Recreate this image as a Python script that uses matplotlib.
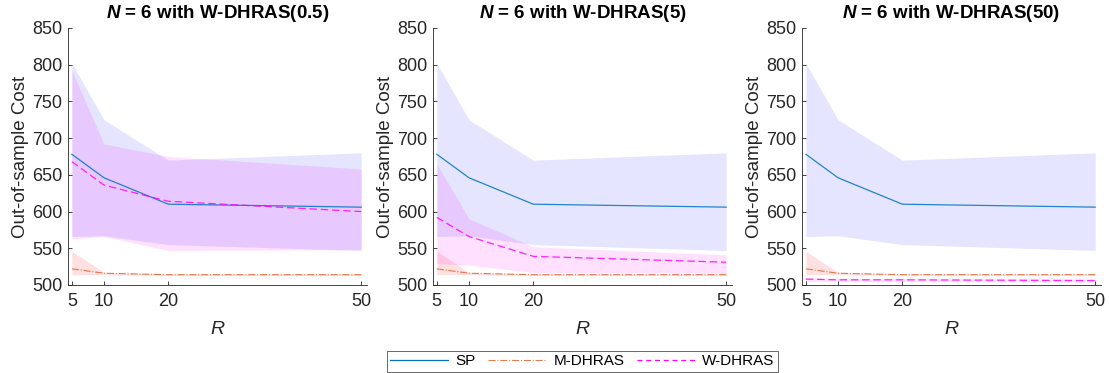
import numpy as np
import matplotlib.pyplot as plt
from matplotlib.lines import Line2D

plt.rcParams['font.family'] = ['Liberation Sans', 'DejaVu Sans']
plt.rcParams['mathtext.fontset'] = 'custom'
plt.rcParams['mathtext.rm'] = 'Liberation Sans'
plt.rcParams['mathtext.it'] = 'Liberation Sans:italic'
plt.rcParams['mathtext.bfit'] = 'Liberation Sans:italic:bold'

R = [5, 10, 20, 50]

# SP (same in every panel)
sp_mean = [678, 646, 610, 606]
sp_hi = [802, 725, 670, 680]
sp_lo = [566, 567, 555, 547]

# M-DHRAS (same in every panel)
md_mean = [522, 516, 514, 514]
md_hi = [546, 517, 515, 515]
md_lo = [514, 514, 513, 513]

# W-DHRAS for three radii
wd_labels = ['0.5', '5', '50']
wd_mean = [[668, 636, 614, 600],
           [592, 566, 539, 531],
           [508, 507, 507, 506]]
wd_hi = [[792, 692, 675, 658],
         [665, 590, 552, 541],
         [510, 509, 509, 508]]
wd_lo = [[563, 566, 547, 548],
         [529, 527, 517, 516],
         [505, 505, 505, 504]]

c_sp = '#0072BD'
c_md = '#D95319'
c_wd = '#FF00FF'

fig = plt.figure(figsize=(11.09, 3.73), dpi=100)
lefts = [0.0613, 0.3904, 0.7232]

for k in range(3):
    ax = fig.add_axes([lefts[k], 0.236, 0.2696, 0.689])
    ax.fill_between(R, sp_lo, sp_hi, color='#0000FF', alpha=0.1, lw=0)
    ax.fill_between(R, md_lo, md_hi, color='#FF0000', alpha=0.12, lw=0)
    ax.fill_between(R, wd_lo[k], wd_hi[k], color='#FF00FF', alpha=0.12, lw=0)
    ax.plot(R, sp_mean, color=c_sp, lw=0.9, ls='-', alpha=0.85)
    ax.plot(R, md_mean, color=c_md, lw=0.8, ls='-.', alpha=0.75)
    ax.plot(R, wd_mean[k], color=c_wd, lw=0.9, ls=(0, (6, 3)), alpha=0.85)

    ax.set_xlim(4.4, 50.9)
    ax.set_ylim(500, 850)
    ax.set_xticks(R)
    ax.set_yticks(np.arange(500, 851, 50))
    ax.tick_params(direction='in', labelsize=13, colors='#262626', length=3, width=0.6,
                   pad=4)
    ax.tick_params(axis='x', pad=6)
    for side in ['top', 'right']:
        ax.spines[side].set_visible(False)
    for side in ['left', 'bottom']:
        ax.spines[side].set_color('#262626')
        ax.spines[side].set_linewidth(0.6)
    ax.set_xlabel('$R$', fontsize=14, color='#262626', labelpad=8)
    ax.set_ylabel('Out-of-sample Cost', fontsize=13.5, color='#262626', labelpad=2)
    ax.set_title('$\\mathbfit{N}$ = 6 with W-DHRAS(' + wd_labels[k] + ')',
                 fontsize=13.5, fontweight='bold', pad=7)

handles = [Line2D([], [], color=c_sp, lw=0.9, ls='-'),
           Line2D([], [], color=c_md, lw=0.8, ls='-.', alpha=0.75),
           Line2D([], [], color=c_wd, lw=0.9, ls=(0, (4, 3)))]
leg = fig.legend(handles, ['SP', 'M-DHRAS', 'W-DHRAS'], loc='lower center',
                 bbox_to_anchor=(0.525, 0.004), ncol=3, frameon=True, fancybox=False,
                 fontsize=11, handlelength=3.8, columnspacing=0.8, borderpad=0.2,
                 handletextpad=0.5, borderaxespad=0.0)
leg.get_frame().set_edgecolor('#262626')
leg.get_frame().set_linewidth(0.6)

fig.savefig('out.png', dpi=100)
